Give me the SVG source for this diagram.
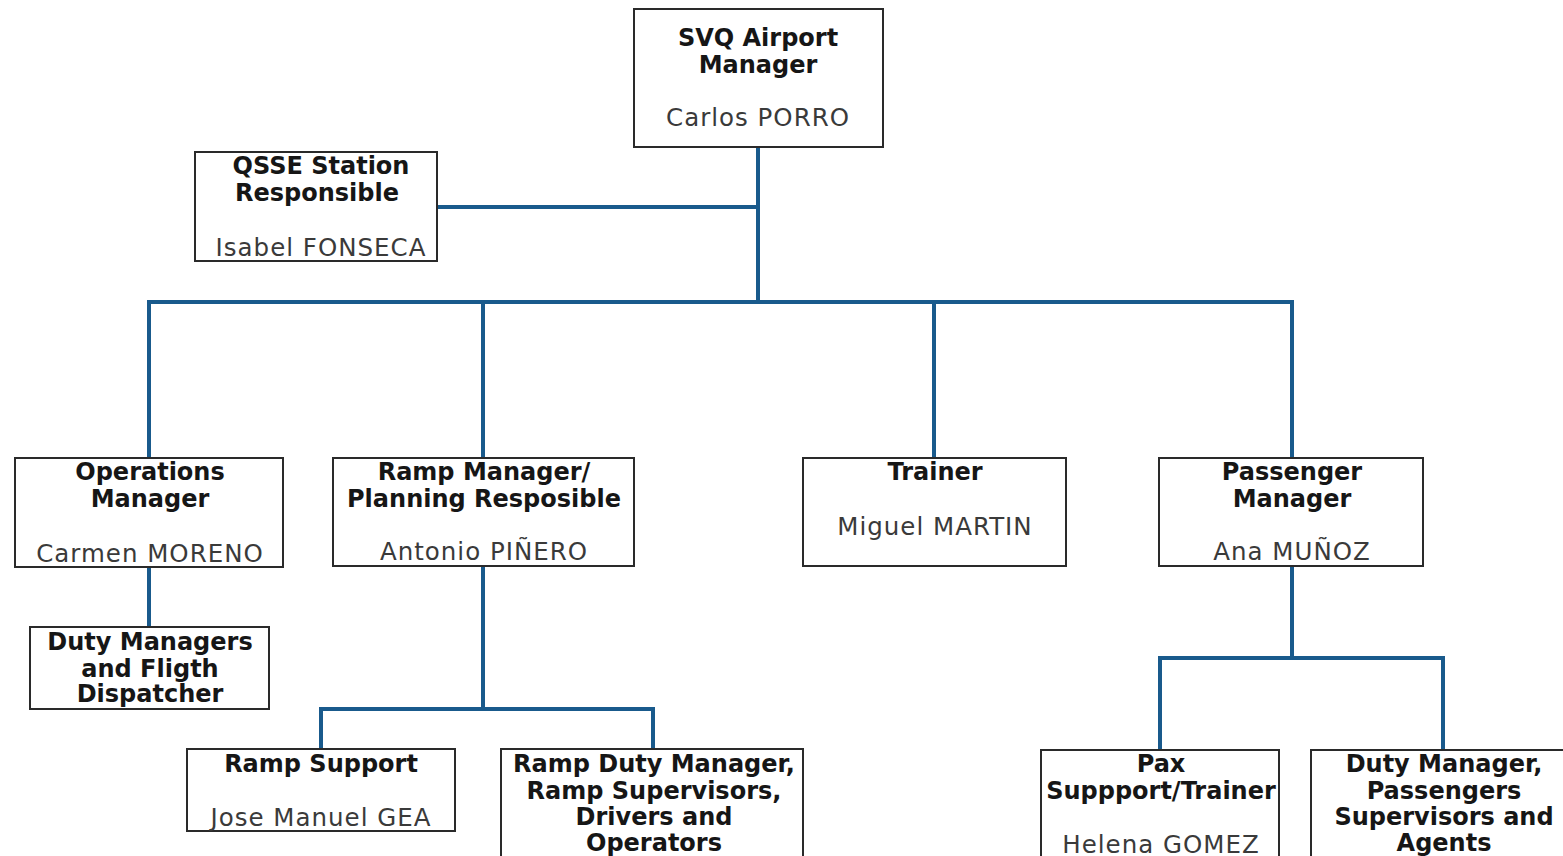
<svg xmlns="http://www.w3.org/2000/svg" width="1563" height="856" viewBox="0 0 1563 856">
  <style>
    .box { fill: #ffffff; stroke: #2a2a2a; stroke-width: 2; }
    .title { font-family: "DejaVu Sans", Verdana, sans-serif; font-weight: bold; font-size: 24px; fill: #161616; text-anchor: middle; }
    .name { font-family: "DejaVu Sans", Verdana, sans-serif; font-size: 24.5px; letter-spacing: 1px; fill: #3a3a3a; text-anchor: middle; }
    .link { fill: none; stroke: #195a8c; stroke-width: 4; stroke-linecap: square; stroke-linejoin: miter; }
  </style>
  <rect width="1563" height="856" fill="#ffffff"/>

  <!-- reporting lines -->
  <g id="connectors">
    <path class="link" d="M758 149 V302"/>
    <path class="link" d="M439 207 H758"/>
    <path class="link" d="M149 302 H1292"/>
    <path class="link" d="M149 302 V457"/>
    <path class="link" d="M483 302 V457"/>
    <path class="link" d="M934 302 V457"/>
    <path class="link" d="M1292 302 V457"/>
    <path class="link" d="M149 568 V626"/>
    <path class="link" d="M483 567 V709 M321 709 H653 M321 709 V748 M653 709 V748"/>
    <path class="link" d="M1292 567 V658 M1160 658 H1443 M1160 658 V749 M1443 658 V749"/>
  </g>

  <g id="airport-manager">
    <rect class="box" x="634" y="9" width="249" height="138"/>
    <text class="title" x="758" y="46">SVQ Airport</text>
    <text class="title" x="758" y="73">Manager</text>
    <text class="name" x="758" y="126">Carlos PORRO</text>
  </g>

  <g id="qsse">
    <rect class="box" x="195" y="152" width="242" height="109"/>
    <text class="title" x="321" y="174">QSSE Station</text>
    <text class="title" x="317" y="201">Responsible</text>
    <text class="name" x="321" y="256">Isabel FONSECA</text>
  </g>

  <g id="operations-manager">
    <rect class="box" x="15" y="458" width="268" height="109"/>
    <text class="title" x="150" y="480">Operations</text>
    <text class="title" x="150" y="507">Manager</text>
    <text class="name" x="150" y="562">Carmen MORENO</text>
  </g>

  <g id="ramp-manager">
    <rect class="box" x="333" y="458" width="301" height="108"/>
    <text class="title" x="484" y="480">Ramp Manager/</text>
    <text class="title" x="484" y="507">Planning Resposible</text>
    <text class="name" x="484" y="560">Antonio PIÑERO</text>
  </g>

  <g id="trainer">
    <rect class="box" x="803" y="458" width="263" height="108"/>
    <text class="title" x="935" y="480">Trainer</text>
    <text class="name" x="935" y="535">Miguel MARTIN</text>
  </g>

  <g id="passenger-manager">
    <rect class="box" x="1159" y="458" width="264" height="108"/>
    <text class="title" x="1292" y="480">Passenger</text>
    <text class="title" x="1292" y="507">Manager</text>
    <text class="name" x="1292" y="560">Ana MUÑOZ</text>
  </g>

  <g id="duty-managers">
    <rect class="box" x="30" y="627" width="239" height="82"/>
    <text class="title" x="150" y="650">Duty Managers</text>
    <text class="title" x="150" y="677">and Fligth</text>
    <text class="title" x="150" y="702">Dispatcher</text>
  </g>

  <g id="ramp-support">
    <rect class="box" x="187" y="749" width="268" height="82"/>
    <text class="title" x="321" y="772">Ramp Support</text>
    <text class="name" x="321" y="826">Jose Manuel GEA</text>
  </g>

  <g id="ramp-staff">
    <rect class="box" x="501" y="749" width="302" height="120"/>
    <text class="title" x="654" y="772">Ramp Duty Manager,</text>
    <text class="title" x="654" y="799">Ramp Supervisors,</text>
    <text class="title" x="654" y="825">Drivers and</text>
    <text class="title" x="654" y="851">Operators</text>
  </g>

  <g id="pax-support">
    <rect class="box" x="1041" y="750" width="238" height="120"/>
    <text class="title" x="1161" y="772">Pax</text>
    <text class="title" x="1161" y="799">Suppport/Trainer</text>
    <text class="name" x="1161" y="853">Helena GOMEZ</text>
  </g>

  <g id="passenger-staff">
    <rect class="box" x="1311" y="750" width="260" height="120"/>
    <text class="title" x="1444" y="772">Duty Manager,</text>
    <text class="title" x="1444" y="799">Passengers</text>
    <text class="title" x="1444" y="825">Supervisors and</text>
    <text class="title" x="1444" y="851">Agents</text>
  </g>
</svg>
